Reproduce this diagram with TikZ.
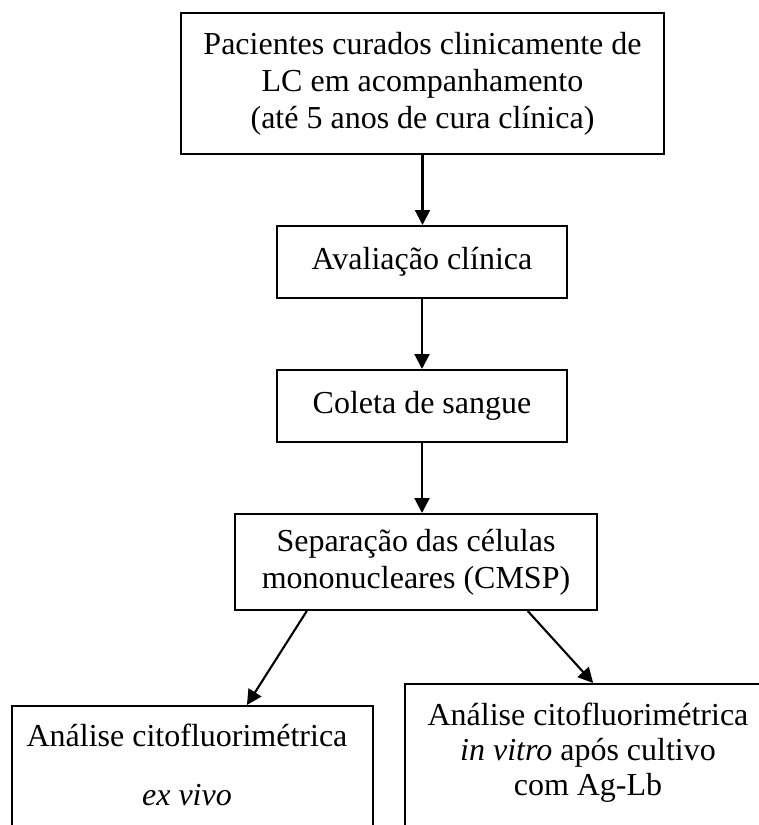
\documentclass[tikz,border=0pt]{standalone}
\usepackage{fontspec}
\setmainfont{Liberation Serif}
\usetikzlibrary{arrows.meta,calc}
\begin{document}
\begin{tikzpicture}[x=1pt,y=-1pt,
  box/.style={draw=black, line width=2pt, rectangle, inner sep=0pt, align=center, font=\fontsize{32}{37}\selectfont},
  txt/.style={inner sep=0pt, align=center, anchor=north},
  arr/.style={line width=2.1pt, -{Triangle[length=15pt,width=15pt]}}]
\useasboundingbox (0,0) rectangle (759,825);
\fill[white] (0,0) rectangle (759,825);
\clip (0,0) rectangle (759,825);
\node[box, minimum width=483pt, minimum height=141pt] (b1) at (422.5,83.5) {Pacientes curados clinicamente de\\LC em acompanhamento\\(até 5 anos de cura clínica)};
\node[box, minimum width=290pt, minimum height=72pt] (b2) at (422,262) {Avaliação clínica};
\node[box, minimum width=290pt, minimum height=72pt] (b3) at (422,406) {Coleta de sangue};
\node[box, minimum width=362pt, minimum height=96pt] (b4) at (416,562) {Separação das células\\mononucleares (CMSP)};
\node[box, minimum width=361pt, minimum height=200pt] (b5) at (192.5,806) {};
\node[box, minimum width=366pt, minimum height=220pt] (b6) at (588,794) {};
\node[txt, font=\fontsize{32}{37}\selectfont] (t5) at (187,715) {\rule{0pt}{31pt}Análise citofluorimétrica\\[22pt]\textit{ex vivo}};
\node[txt, font=\fontsize{32}{35}\selectfont] (t6) at (588,694) {\rule{0pt}{31pt}Análise citofluorimétrica\\\textit{in vitro} após cultivo\\com Ag-Lb};
\draw[arr] (b1.south) -- (b1.south |- b2.north);
\draw[arr] (b2.south) -- (b3.north);
\draw[arr] (b3.south) -- (b3.south |- b4.north);
\draw[arr] ($(b4.south west)!0.2!(b4.south east)$) -- ($(b5.north west)!0.65!(b5.north east)$);
\draw[arr] ($(b4.south west)!0.807!(b4.south east)$) -- ($(b6.north west)!0.514!(b6.north east)$);
\end{tikzpicture}
\end{document}
